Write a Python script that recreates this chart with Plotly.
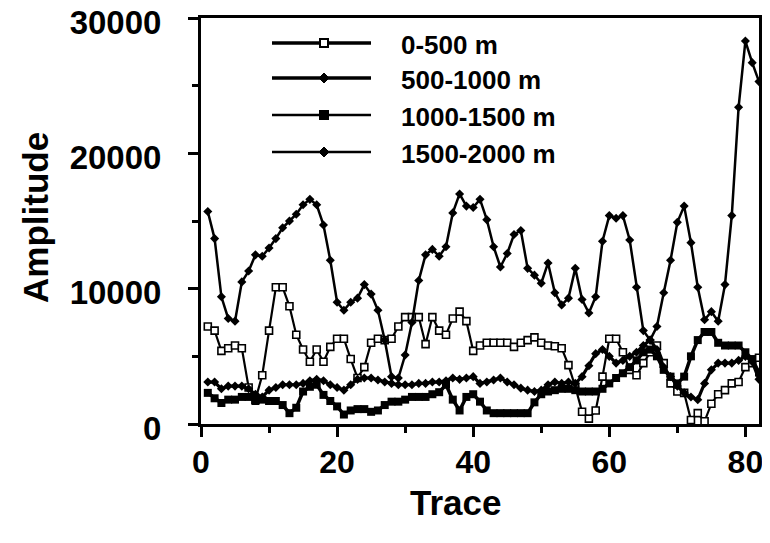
import plotly.graph_objects as go

traces = list(range(1, 83))

amp_0_500 = [7200, 6900, 5400, 5600, 5800, 5600, 2700, 1800, 3600, 6900,
             10100, 10100, 8700, 6600, 5500, 4600, 5500, 4600, 5700, 6300,
             6300, 4800, 3400, 4200, 6000, 6300, 6200, 6300, 7200, 7900,
             7900, 7900, 5900, 7900, 6900, 6600, 7800, 8300, 7600, 5400,
             5800, 6000, 6000, 6000, 6000, 5700, 6000, 6200, 6400, 6000,
             5800, 5750, 5600, 4350, 2750, 900, 400, 1000, 3500, 6300,
             6300, 5300, 4000, 3600, 4500, 5300, 5800, 4500, 3000, 2400,
             2300, 300, 800, 200, 1500, 2200, 2500, 3000, 3100, 4200,
             4500, 4900]

amp_500_1000 = [3100, 3100, 2600, 2800, 2800, 2800, 2600, 2200, 2000, 2500,
                2700, 2900, 2900, 2900, 3000, 3200, 3300, 3200, 2900, 2700,
                2500, 2900, 3300, 3400, 3400, 3250, 3100, 3000, 2900, 2900,
                2900, 3000, 3000, 3100, 3100, 3200, 3400, 3300, 3400, 3500,
                3000, 3100, 3250, 3400, 3100, 2900, 2650, 2500, 2400, 2500,
                2900, 3100, 3000, 3100, 3000, 3500, 4300, 5200, 5500, 5000,
                4500, 4700, 5000, 5300, 5800, 6200, 5500, 4200, 3500, 2800,
                2300, 2000, 1800, 3000, 4000, 4500, 4500, 4500, 4700, 5000,
                4600, 3300]

amp_1000_1500 = [2300, 1900, 1550, 1800, 1800, 2000, 2000, 1700, 1800, 1700,
                 1700, 1400, 800, 1200, 2400, 2750, 2900, 2150, 1700, 1300,
                 700, 1000, 1100, 1100, 900, 1000, 1400, 1650, 1650, 1800,
                 2000, 2000, 2000, 2200, 2350, 2900, 1800, 1000, 2000, 2200,
                 1650, 1000, 800, 800, 800, 800, 800, 800, 1600, 2200,
                 2400, 2500, 2600, 2600, 2500, 2400, 2400, 2400, 2600, 3000,
                 3400, 3750, 4200, 4700, 5300, 5500, 5000, 4000, 3500, 3000,
                 3500, 5000, 6200, 6800, 6800, 6000, 5800, 5800, 5800, 5300,
                 4800, 3800]

amp_1500_2000 = [15700, 13700, 9400, 7800, 7600, 10500, 11300, 12500, 12400, 13000,
                 13700, 14500, 15000, 15500, 16200, 16600, 16200, 14700, 12100, 9000,
                 8400, 9000, 9300, 10300, 9600, 8400, 6200, 3500, 3400, 5100,
                 7500, 10600, 12500, 12900, 12400, 13100, 15600, 17000, 16100, 16000,
                 16600, 15100, 13100, 11600, 12600, 14000, 14300, 11500, 11000, 10400,
                 11900, 9700, 8800, 9300, 11500, 9200, 8200, 9400, 13500, 15400,
                 15200, 15400, 13600, 10100, 6900, 6200, 7200, 9700, 12100, 14900,
                 16100, 13400, 10100, 7700, 8300, 7600, 10300, 15400, 23400, 28300,
                 26700, 25300]

series_names = ["0-500 m", "500-1000 m", "1000-1500 m", "1500-2000 m"]
x_ticks = [0, 20, 40, 60, 80]
y_ticks = [0, 10000, 20000, 30000]

FONT = "Liberation Sans"
# page has an 8px body margin; plot area on screen: x 201..759, y 18..424
OFF = 8
PL, PR, PT, PB = 201, 759, 18, 424
pw, ph = PR - PL, PB - PT
W, H = 756, 515
L, T = PL - OFF, PT - OFF
R = W - L - pw
B = H - T - ph

def px(xs):
    return (xs - PL) / pw

def py(ys):
    return (PB - ys) / ph

styles = [
    dict(symbol="square", size=7, color="white", line=dict(color="black", width=1.6), lw=2.2),
    dict(symbol="diamond", size=7, color="black", line=dict(color="black", width=0), lw=3.2),
    dict(symbol="square", size=8, color="black", line=dict(color="black", width=0), lw=3.5),
    dict(symbol="diamond", size=7, color="black", line=dict(color="black", width=0), lw=2.5),
]
data = [amp_0_500, amp_500_1000, amp_1000_1500, amp_1500_2000]

fig = go.Figure()
for name, vals, st in zip(series_names, data, styles):
    fig.add_trace(go.Scatter(
        x=traces, y=vals, name=name, mode="lines+markers",
        line=dict(color="black", width=st["lw"]),
        marker=dict(symbol=st["symbol"], size=st["size"], color=st["color"], line=st["line"]),
        showlegend=False, cliponaxis=False))

# custom legend (long line samples as in the reference)
leg_y = [43, 78, 115, 152]
leg_text_y = [45, 80, 117, 154]
shapes = []
annotations = []
for i, (name, st) in enumerate(zip(series_names, styles)):
    yy = py(leg_y[i])
    shapes.append(dict(type="line", xref="paper", yref="paper", x0=px(272), x1=px(371),
                       y0=yy, y1=yy, line=dict(color="black", width=3.5 if i < 2 else 2.5)))
    if st["symbol"] == "square":
        s = 4
        shapes.append(dict(type="rect", xref="paper", yref="paper", xsizemode="pixel", ysizemode="pixel",
                           xanchor=px(324), yanchor=yy, x0=-s, x1=s, y0=-s, y1=s,
                           fillcolor=st["color"], line=dict(color="black", width=2)))
    else:
        s = 5
        shapes.append(dict(type="path", xref="paper", yref="paper", xsizemode="pixel", ysizemode="pixel",
                           xanchor=px(324), yanchor=yy,
                           path=f"M0,{s} L{s},0 L0,{-s} L{-s},0 Z",
                           fillcolor="black", line=dict(color="black", width=1)))
    annotations.append(dict(text=name, xref="paper", yref="paper", x=px(399), y=py(leg_text_y[i]),
                            xanchor="left", yanchor="middle", showarrow=False,
                            font=dict(family=FONT, size=26, color="black", weight="bold")))

annotations.append(dict(text="Amplitude", xref="paper", yref="paper", x=px(36), y=py(218),
                        textangle=-90, xanchor="center", yanchor="middle", showarrow=False,
                        font=dict(family=FONT, size=35, color="black", weight="bold")))
annotations.append(dict(text="Trace", xref="paper", yref="paper", x=px(455), y=py(502),
                        xanchor="center", yanchor="middle", showarrow=False,
                        font=dict(family=FONT, size=35, color="black", weight="bold")))

axis_common = dict(showgrid=False, zeroline=False, showline=True, linecolor="black", linewidth=3,
                   mirror=True, ticks="outside", tickcolor="black", tickwidth=2.5, ticklen=10,
                   automargin=False, ticklabeloverflow="allow")

fig.update_layout(
    width=W, height=H, margin=dict(l=L, r=R, t=T, b=B, autoexpand=False),
    paper_bgcolor="white", plot_bgcolor="white",
    xaxis=dict(range=[0, 82], tickvals=x_ticks, ticktext=[str(v) for v in x_ticks],
               minor=dict(dtick=10, tick0=0, ticks="outside", ticklen=6, tickwidth=2.5, tickcolor="black"),
               ticklabelstandoff=-2,
               tickfont=dict(family=FONT, size=32, color="black", weight="bold"), **axis_common),
    yaxis=dict(range=[0, 30000], tickvals=y_ticks, ticktext=[str(v) for v in y_ticks],
               minor=dict(dtick=5000, tick0=0, ticks="outside", ticklen=6, tickwidth=2.5, tickcolor="black"),
               ticklabelstandoff=20, ticklabelshift=4,
               tickfont=dict(family=FONT, size=33, color="black", weight="bold"), **axis_common),
    shapes=shapes, annotations=annotations,
)

fig.write_html("out.html")
